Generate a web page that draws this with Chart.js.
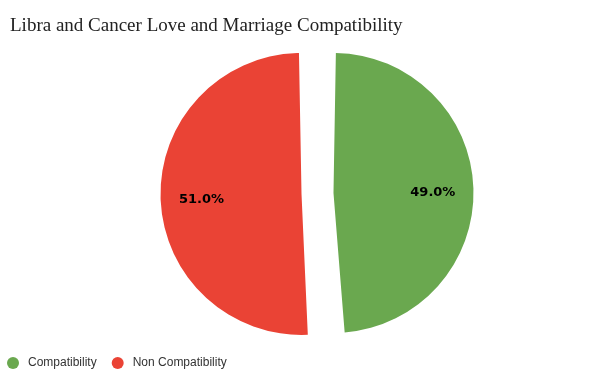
<!DOCTYPE html>
<html>
<head>
<meta charset="utf-8">
<script src="https://cdn.jsdelivr.net/npm/chart.js@4.4.1/dist/chart.umd.min.js"></script>
<style>
  html, body { margin: 0; padding: 0; background: #fff; }
  #wrap { width: 600px; height: 379px; position: relative; }
</style>
</head>
<body>
<div id="wrap"><canvas id="c" width="600" height="379"></canvas></div>
<script>
const categories = ["Compatibility", "Non Compatibility"];
const values = [49.0, 51.0];
const sliceColors = ["#6aa84f", "#ea4335"];
const titleText = "Libra and Cancer Love and Marriage Compatibility";

const PIE_SHIFT_X = 12.5;

const shiftPlugin = {
  id: 'pieShift',
  beforeDatasetsDraw(chart) {
    chart.ctx.save();
    chart.ctx.translate(PIE_SHIFT_X, 0);
  },
  afterDatasetsDraw(chart) {
    chart.ctx.restore();
  }
};

const labelPlugin = {
  id: 'sliceLabels',
  afterDatasetsDraw(chart) {
    const ctx = chart.ctx;
    const meta = chart.getDatasetMeta(0);
    const total = values.reduce((a, b) => a + b, 0);
    ctx.save();
    ctx.font = 'bold 13px "DejaVu Sans", Verdana, sans-serif';
    ctx.fillStyle = '#000';
    ctx.textAlign = 'center';
    ctx.textBaseline = 'middle';
    meta.data.forEach((arc, i) => {
      const p = arc.getProps(['x', 'y', 'startAngle', 'endAngle', 'outerRadius'], true);
      const mid = (p.startAngle + p.endAngle) / 2;
      const off = (arc.options.offset || 0) / 4;
      const fix = 1 - Math.sin(Math.min(Math.PI, p.endAngle - p.startAngle));
      const drawnR = p.outerRadius + off * fix;
      const d = off + drawnR * 0.71;
      const x = p.x + PIE_SHIFT_X + Math.cos(mid) * d;
      const y = p.y + Math.sin(mid) * d + 3;
      ctx.fillText((values[i] / total * 100).toFixed(1) + '%', x, y);
    });
    ctx.restore();
  }
};

const legendPlugin = {
  id: 'bottomLegend',
  afterDraw(chart) {
    const ctx = chart.ctx;
    ctx.save();
    ctx.font = '12px "Liberation Sans", Arial, sans-serif';
    ctx.textBaseline = 'middle';
    ctx.textAlign = 'left';
    const y = chart.height - 16;
    let x = 13;
    categories.forEach((name, i) => {
      ctx.beginPath();
      ctx.arc(x, y, 6, 0, Math.PI * 2);
      ctx.fillStyle = sliceColors[i];
      ctx.fill();
      ctx.fillStyle = '#333';
      const tx = x + 15;
      ctx.fillText(name, tx, y);
      x = tx + ctx.measureText(name).width + 21;
    });
    ctx.restore();
  }
};

new Chart(document.getElementById('c'), {
  type: 'pie',
  data: {
    labels: categories,
    datasets: [{
      data: values,
      backgroundColor: sliceColors,
      borderWidth: 0,
      offset: 64,
      hoverOffset: 64
    }]
  },
  options: {
    responsive: false,
    animation: false,
    radius: 125,
    layout: { padding: { top: 0, bottom: 40, left: 10, right: 0 } },
    plugins: {
      title: {
        display: true,
        text: titleText,
        align: 'start',
        color: '#222',
        font: { family: '"Liberation Serif", "DejaVu Serif", serif', size: 19, weight: 'normal' },
        padding: { top: 15, bottom: 10 }
      },
      legend: { display: false },
      tooltip: { enabled: false }
    }
  },
  plugins: [shiftPlugin, labelPlugin, legendPlugin]
});
</script>
</body>
</html>
